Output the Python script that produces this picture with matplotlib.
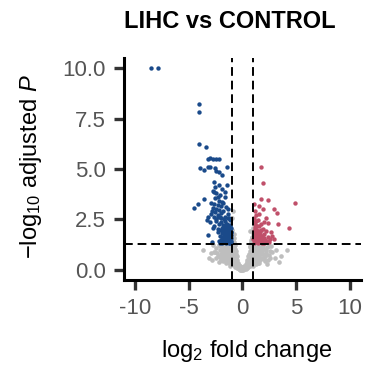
import matplotlib
matplotlib.use('Agg')
import matplotlib.pyplot as plt

plt.rcParams['font.family'] = ['Liberation Sans', 'DejaVu Sans']
plt.rcParams['mathtext.fontset'] = 'custom'
plt.rcParams['mathtext.rm'] = 'Liberation Sans'
plt.rcParams['mathtext.it'] = 'Liberation Sans:italic'
plt.rcParams['axes.unicode_minus'] = False

# down-regulated (blue)
down_x = [-8.5, -7.8, -4.0, -4.0, -4.05, -3.4, -3.2, -3.0, -2.7, -2.45, -2.2,
          -3.95, -3.55, -3.2, -3.05, -2.55, -2.4, -2.15, -1.9, -1.4, -2.65, -2.55,
          -1.45, -2.6, -2.45, -2.75, -2.3, -2.5, -3.6, -2.2,
          -4.1, -4.45, -2.9, -2.6, -2.3, -2.0, -2.7, -2.45, -1.9, -2.15,
          -3.15, -2.95, -2.8, -2.5, -2.3, -2.0, -1.8, -2.6, -1.6, -1.95, -2.4, -3.3, -1.3,
          -3.0, -2.6, -2.4, -2.2, -2.0, -1.8, -1.6, -1.4, -1.25, -1.9, -2.3, -1.5, -1.15, -2.7,
          -3.2, -2.85, -2.3, -2.1, -1.9, -1.7, -1.5, -1.3, -1.1, -2.0, -1.8, -1.6, -1.4,
          -1.2, -1.05, -1.9, -1.7, -1.5, -1.3, -1.1, -1.6, -1.35, -1.15, -2.2, -1.45,
          -1.25, -1.05, -1.75, -1.55, -1.2, -1.4, -1.7, -2.1, -1.1, -1.3, -1.5, -1.05,
          -1.08, -1.18, -1.28, -1.38, -1.48, -1.58, -1.68, -1.12, -1.22, -1.32, -1.42,
          -1.52, -1.62, -1.72, -1.82, -1.92, -2.02, -2.12, -2.25, -1.35, -1.55, -1.75,
          -1.65, -2.05, -1.85, -2.2, -1.6, -1.02, -1.08, -1.03]
down_y = [10.0, 10.0, 8.2, 7.8, 6.25, 6.1, 5.5, 5.55, 5.5, 5.5, 5.5,
          5.05, 4.95, 5.1, 5.1, 5.05, 4.9, 4.85, 4.7, 5.1, 4.35, 4.1,
          4.2, 3.85, 3.8, 3.9, 3.6, 3.55, 3.5, 3.4,
          3.27, 3.05, 3.3, 3.25, 3.2, 3.15, 3.05, 3.0, 3.35, 2.95,
          2.6, 2.75, 2.9, 2.85, 2.7, 2.8, 2.9, 2.6, 2.6, 2.55, 2.5, 2.45, 2.75,
          2.35, 2.2, 2.4, 2.3, 2.35, 2.25, 2.4, 2.3, 2.15, 2.1, 2.05, 2.05, 2.45, 2.1,
          1.75, 1.4, 1.9, 1.7, 1.85, 1.95, 1.8, 1.9, 1.85, 1.5, 1.6, 1.5, 1.6,
          1.55, 1.6, 1.35, 1.38, 1.35, 1.4, 1.35, 1.7, 1.75, 1.7, 1.45, 1.45,
          1.32, 1.45, 1.45, 1.62, 2.0, 2.15, 2.15, 1.35, 2.2, 2.55, 1.55, 1.9,
          1.75, 1.42, 1.62, 1.52, 1.72, 1.38, 1.78, 2.25, 2.55, 2.05, 1.95,
          2.3, 1.98, 2.5, 2.05, 1.65, 2.0, 2.6, 2.6, 3.0, 3.1, 3.3,
          3.6, 3.7, 4.0, 4.2, 3.85, 1.38, 2.1, 1.9]

# up-regulated (red)
up_x = [1.74, 1.95, 4.93, 1.74, 2.39, 1.12, 1.58, 1.89, 2.98, 3.19, 4.3, 3.35,
        2.67, 2.8, 2.98, 2.2, 2.36, 1.3, 1.6, 1.15,
        1.1, 1.3, 1.5, 1.2, 1.4, 1.7, 1.1, 1.3, 1.5, 1.7, 1.9,
        1.05, 1.25, 1.45, 1.65, 1.85, 2.05, 1.1, 1.3, 1.5, 1.7, 1.9, 2.1, 2.3,
        1.05, 1.25, 1.45, 1.65, 1.85, 2.05, 2.5, 1.2, 1.6, 2.0, 1.35, 1.55, 2.4,
        1.02, 1.08, 1.18, 1.28, 1.38, 1.42, 1.52, 1.62, 1.72, 1.78, 1.95, 1.15,
        1.35, 1.08, 1.22, 2.2, 2.6, 2.25, 1.98, 1.55]
up_y = [5.1, 4.33, 3.3, 3.5, 3.45, 3.28, 3.17, 3.03, 3.0, 2.8, 2.1, 2.27,
        1.87, 1.7, 1.53, 2.58, 2.33, 2.7, 2.75, 2.9,
        2.35, 2.4, 2.45, 2.15, 2.2, 2.3, 1.95, 2.0, 1.95, 2.0, 2.05,
        1.7, 1.75, 1.7, 1.75, 1.7, 1.8, 1.5, 1.5, 1.55, 1.5, 1.45, 1.5, 1.45,
        1.35, 1.38, 1.35, 1.38, 1.33, 1.35, 1.4, 1.62, 1.6, 1.6, 1.85, 1.82, 1.65,
        1.55, 1.82, 2.05, 1.55, 1.45, 1.95, 1.42, 1.88, 1.62, 1.4, 1.6, 1.42,
        1.65, 2.55, 2.3, 1.38, 1.55, 1.95, 2.35, 2.2]

# not significant (grey)
ns_x = [-0.4, -0.3, -0.2, -0.1, 0.0, 0.1, 0.2, 0.3, 0.4, -0.5, 0.5,
        -1.0, -0.8, -0.6, -0.5, -0.35, -0.2, 0.0, 0.2, 0.35, 0.55, 0.7, 0.9, 1.1, -1.2, -0.65, 0.6, 1.3,
        -1.6, -1.4, -1.2, -1.0, -0.9, -0.75, -0.6, -0.45, 0.45, 0.6, 0.75, 0.9, 1.05, 1.2, 1.4, 1.6, 1.8,
        -1.8, -2.8, 2.0, -0.5,
        -2.0, -1.8, -1.6, -1.4, -1.2, -1.0, -0.85, -0.7, -0.6, 0.6, 0.7, 0.85, 1.0, 1.15, 1.3, 1.5, 1.7,
        1.9, 2.2, 2.5, -3.7, 4.16, -2.3, 3.0,
        -2.4, -2.1, -1.9, -1.7, -1.5, -1.3, -1.1, -0.95, -0.8, -0.7, 0.75, 0.85, 0.95, 1.1, 1.25, 1.4,
        1.6, 1.8, 2.0, 2.3, 2.7, 3.1, -2.7, -0.65,
        -0.9, -0.85, -0.95, -0.8, -0.9, -0.95, 0.8, 0.9, 0.95, 0.85, -0.75, 0.95,
        -0.25, 0.25, -0.7, 0.7, -1.1, 1.0, -1.5, 1.5, -0.95, 0.95, -1.3, 1.25, -0.55, 0.5,
        -1.05, 1.1, -0.8, 0.8, -1.7, 1.7, -2.0, 2.1, -2.5, 2.6, -0.15, 0.15, -0.45, 0.4,
        -0.3, 0.3, -0.45, 0.45, -0.55, 0.5, -0.7, 0.65, -0.8, 0.8, -0.85, 0.9, -0.95, 1.0,
        -1.1, 1.15, -1.25, 1.3, -1.35, 1.45, -1.45, 1.5, -1.55, 1.6, -1.65, 1.7, -1.75, 1.85,
        -1.9, 1.95, -2.05, 2.1, -2.2, 2.2, -2.4, 2.45, -2.6, 2.8, -3.1, 3.4, -1.0, 1.05,
        -0.75, 0.7, -0.6, 0.55, -0.4, 0.4, -0.15, 0.15, -0.9, 0.95, -1.15, 1.2, -1.45, 1.55,
        -1.95, 2.4, -2.2, 2.3,
        -0.62, 0.62, -0.72, 0.78, -0.88, 0.88, -0.98, 0.92, -1.08, 1.12, -1.22, 1.28,
        -1.32, 1.38, -1.52, 1.58, -1.68, 1.72, -1.85, 1.88, -2.1, 2.15, -2.35, 2.55,
        -0.52, 0.58, -0.68, 0.72, -0.82, 0.82, -1.18, 1.08, -1.42, 1.42, -1.62, 1.65,
        -0.88, 0.82, -0.92, 0.88, -0.78, 0.75, -2.9, 3.6]
ns_y = [0.1, 0.05, 0.02, 0.0, 0.0, 0.01, 0.03, 0.06, 0.1, 0.12, 0.14,
        0.3, 0.25, 0.2, 0.3, 0.25, 0.18, 0.15, 0.2, 0.28, 0.22, 0.3, 0.25, 0.35, 0.38, 0.38, 0.38, 0.3,
        0.5, 0.6, 0.5, 0.6, 0.45, 0.55, 0.65, 0.5, 0.5, 0.6, 0.48, 0.62, 0.5, 0.65, 0.55, 0.45, 0.6,
        0.65, 0.47, 0.55, 0.68,
        0.8, 0.9, 0.75, 0.95, 0.8, 0.9, 0.75, 0.85, 0.95, 0.8, 0.95, 0.72, 0.85, 0.75, 0.9, 0.8, 0.95,
        0.78, 0.85, 0.75, 0.97, 0.98, 0.7, 0.6,
        1.1, 1.2, 1.05, 1.2, 1.1, 1.25, 1.05, 1.2, 1.1, 1.25, 1.15, 1.25, 1.05, 1.2, 1.1, 1.25,
        1.1, 1.2, 1.05, 1.15, 1.2, 1.0, 1.25, 1.05,
        1.5, 1.75, 2.0, 1.4, 2.9, 2.55, 1.4, 1.6, 1.85, 1.5, 1.6, 2.1,
        0.08, 0.09, 0.15, 0.17, 0.2, 0.18, 0.35, 0.32, 0.4, 0.42, 0.7, 0.68, 0.45, 0.42,
        0.95, 1.0, 0.6, 0.65, 1.05, 1.0, 0.5, 0.45, 0.9, 0.95, 0.04, 0.05, 0.35, 0.3,
        0.15, 0.15, 0.2, 0.25, 0.42, 0.45, 0.48, 0.5, 0.62, 0.55, 0.9, 0.8, 0.7, 0.7,
        0.72, 0.95, 0.65, 0.6, 0.85, 0.72, 1.2, 1.05, 0.55, 0.65, 1.05, 0.8, 0.45, 0.95,
        0.85, 1.25, 1.0, 0.7, 1.25, 1.0, 0.6, 1.2, 0.9, 0.9, 0.6, 0.4, 1.0, 1.15,
        1.2, 1.2, 0.8, 0.7, 0.35, 0.4, 0.08, 0.1, 0.3, 0.4, 0.3, 0.45, 0.4, 0.35,
        0.5, 0.5, 0.4, 0.3,
        0.55, 0.58, 0.72, 0.68, 1.0, 1.02, 1.18, 1.12, 1.15, 1.22, 0.98, 1.02,
        0.75, 0.8, 0.95, 0.9, 0.62, 0.55, 1.12, 1.08, 0.62, 0.68, 0.85, 0.6,
        0.28, 0.32, 0.32, 0.38, 0.48, 0.52, 0.55, 0.58, 0.68, 0.78, 0.88, 1.18,
        1.3, 1.28, 1.55, 1.62, 1.8, 1.95, 0.85, 0.7]

fc_cut = 1.0
p_cut = 1.30103  # -log10(0.05)

fig = plt.figure(figsize=(3.66, 3.67), dpi=100)
ax = fig.add_axes([0.339, 0.237, 0.646, 0.605])

ax.scatter(ns_x, ns_y, s=11, color='#BEBEBE', linewidths=0, zorder=2)
ax.scatter(down_x, down_y, s=10, color='#1A4A8A', linewidths=0, zorder=3)
ax.scatter(up_x, up_y, s=10, color='#C0506A', linewidths=0, zorder=3)

dash = (0, (4.5, 2.5))
ax.axvline(-fc_cut, color='black', lw=1.4, ls=dash, zorder=4)
ax.axvline(fc_cut, color='black', lw=1.4, ls=dash, zorder=4)
ax.axhline(p_cut, color='black', lw=1.4, ls=dash, zorder=4)

ax.set_xlim(-11, 11)
ax.set_ylim(-0.5, 10.5)
ax.set_xticks([-10, -5, 0, 5, 10])
ax.set_yticks([0, 2.5, 5, 7.5, 10])
ax.set_yticklabels(['0.0', '2.5', '5.0', '7.5', '10.0'])

for s in ['top', 'right']:
    ax.spines[s].set_visible(False)
for s in ['left', 'bottom']:
    ax.spines[s].set_linewidth(2.2)
    ax.spines[s].set_color('black')
ax.tick_params(length=7, width=2.4, color='#333333', labelsize=16,
               labelcolor='#555555', pad=6)

fig.text(247 / 366, 1 - 357 / 367, 'log$_2$ fold change', fontsize=17,
         ha='center', va='baseline')
fig.text(31 / 366, 1 - 167 / 367, '−log$_{10}$ adjusted $P$', fontsize=17,
         rotation=90, ha='center', va='center')
fig.text(229.5 / 366, 1 - 28 / 367, 'LIHC vs CONTROL', fontsize=17,
         fontweight='bold', ha='center', va='baseline')

fig.savefig('out.png', dpi=100)
